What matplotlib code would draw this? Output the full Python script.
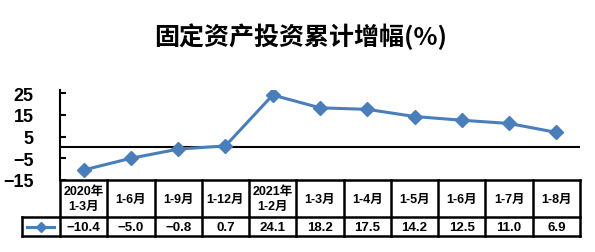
import matplotlib
matplotlib.use("Agg")
import matplotlib.pyplot as plt
from matplotlib.lines import Line2D
import matplotlib.transforms as mtransforms

plt.rcParams['font.family'] = ['Liberation Sans', 'Noto Sans CJK SC', 'DejaVu Sans']

title = "固定资产投资累计增幅(%)"
categories = ["2020年\n1-3月", "1-6月", "1-9月", "1-12月", "2021年\n1-2月",
              "1-3月", "1-4月", "1-5月", "1-6月", "1-7月", "1-8月"]
values = [-10.4, -5.0, -0.8, 0.7, 24.1, 18.2, 17.5, 14.2, 12.5, 11.0, 6.9]
yticks = [-15, -5, 5, 15, 25]

W, H = 595, 253
fig = plt.figure(figsize=(W / 100, H / 100), dpi=100)
ax_l, ax_r, ax_b, ax_t = 60, 580, 181, 91
ax = fig.add_axes([ax_l / W, 1 - ax_b / H, (ax_r - ax_l) / W, (ax_b - ax_t) / H])

color = "#4A7EBB"
n = len(categories)
x = list(range(n))
ax.plot(x, values, color=color, lw=2.2, marker="D", markersize=7.5, zorder=3)
ax.set_xlim(-0.5, n - 0.5)
ax.set_ylim(-15, 26.4)
ax.axhline(0, color="black", lw=1.5, zorder=2)

for s in ["top", "right"]:
    ax.spines[s].set_visible(False)
ax.spines["left"].set_linewidth(1.5)
ax.spines["bottom"].set_linewidth(1.8)
ax.set_xticks([])
ax.set_yticks(yticks)
ax.set_yticklabels([f"{v:g}".replace("-", "−") for v in yticks],
                   fontsize=13, fontweight="bold")
ax.tick_params(axis="y", direction="in", length=4, width=1.5, pad=19)

# table
trans = mtransforms.blended_transform_factory(ax.transData, fig.transFigure)
def fy(py):
    return 1 - py / H
row1_top, row1_bot, row2_bot = 181, 218, 237
lw = 1.8
for i in range(n + 1):
    xb = i - 0.5
    fig.add_artist(Line2D([xb, xb], [fy(row1_top), fy(row2_bot)], transform=trans,
                          color="black", lw=lw))
for yy in [row1_bot, row2_bot]:
    fig.add_artist(Line2D([22 / W, ax_r / W], [fy(yy), fy(yy)],
                          transform=fig.transFigure, color="black", lw=lw))
fig.add_artist(Line2D([22 / W, 22 / W], [fy(row1_bot), fy(row2_bot)],
                      transform=fig.transFigure, color="black", lw=lw))
for i, (c, v) in enumerate(zip(categories, values)):
    fig.text(i, fy((row1_top + row1_bot) / 2), c, transform=trans, ha="center",
             va="center", fontsize=9, fontweight="bold",
             family=['Liberation Sans', 'Noto Sans CJK SC'], linespacing=1.3)
    fig.text(i, fy((row1_bot + row2_bot) / 2 + 0.5), f"{v:.1f}".replace("-", "−"),
             transform=trans, ha="center", va="center", fontsize=9.5, fontweight="bold")
# legend key
fig.add_artist(Line2D([27 / W, 54 / W], [fy(228), fy(228)], transform=fig.transFigure,
                      color=color, lw=2.2))
fig.add_artist(Line2D([40.5 / W], [fy(228)], transform=fig.transFigure,
                      color=color, marker="D", markersize=5, lw=0))

fig.text(301 / W, fy(37), title, ha="center", va="center", fontsize=18,
         fontweight="bold", family=['Noto Sans CJK SC', 'DejaVu Sans'])

fig.savefig("out.png", dpi=100)
